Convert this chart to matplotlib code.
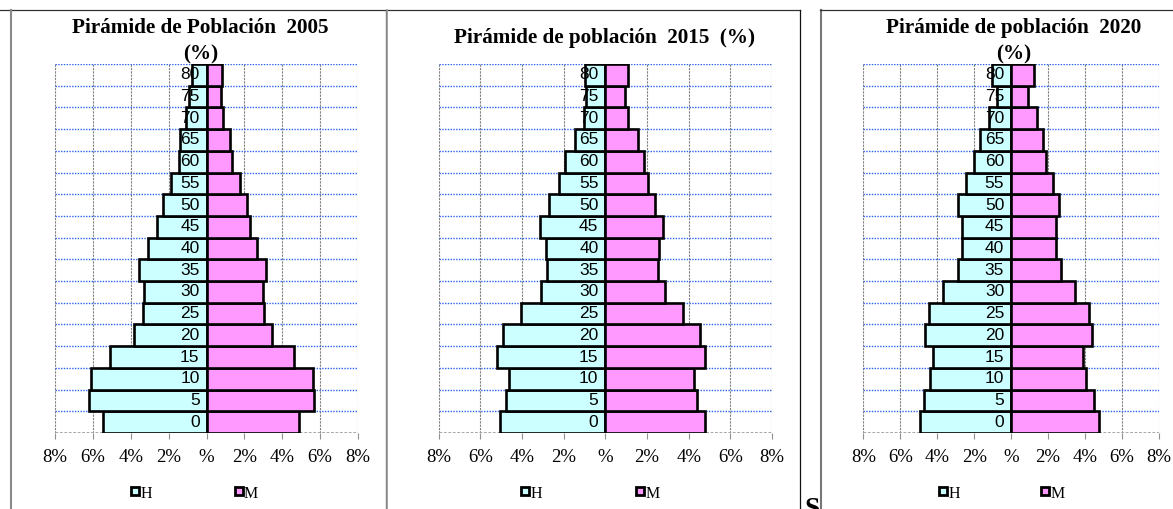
import matplotlib
matplotlib.use("Agg")
import matplotlib.pyplot as plt
from matplotlib.lines import Line2D

# ---------------------------------------------------------------------------
# Data (percent of population by 5-year age group, H = hombres, M = mujeres)
# ---------------------------------------------------------------------------
ages = ["0", "5", "10", "15", "20", "25", "30", "35", "40",
        "45", "50", "55", "60", "65", "70", "75", "80"]

h_2005 = [5.44, 6.18, 6.09, 5.10, 3.85, 3.36, 3.29, 3.54, 3.11,
          2.62, 2.31, 1.86, 1.46, 1.41, 1.06, 0.90, 0.78]
m_2005 = [4.86, 5.70, 5.61, 4.61, 3.45, 3.01, 2.97, 3.15, 2.68,
          2.31, 2.13, 1.78, 1.34, 1.25, 0.88, 0.74, 0.83]

h_2015 = [5.06, 4.75, 4.64, 5.20, 4.91, 4.05, 3.07, 2.78, 2.83,
          3.12, 2.69, 2.22, 1.92, 1.47, 1.04, 0.93, 0.98]
m_2015 = [4.78, 4.38, 4.27, 4.80, 4.54, 3.74, 2.86, 2.53, 2.56,
          2.77, 2.38, 2.06, 1.84, 1.55, 1.10, 0.93, 1.09]

h_2020 = [4.95, 4.71, 4.37, 4.22, 4.68, 4.44, 3.70, 2.87, 2.64,
          2.64, 2.87, 2.47, 1.99, 1.68, 1.19, 0.76, 1.01]
m_2020 = [4.75, 4.46, 4.03, 3.88, 4.37, 4.19, 3.48, 2.69, 2.42,
          2.42, 2.60, 2.24, 1.91, 1.70, 1.39, 0.92, 1.25]

x_ticks = [-8, -6, -4, -2, 0, 2, 4, 6, 8]
x_tick_labels = ["8%", "6%", "4%", "2%", "%", "2%", "4%", "6%", "8%"]

legend_labels = ["H", "M"]

# ---------------------------------------------------------------------------
# Styling
# ---------------------------------------------------------------------------
W, H = 1173, 509
SERIF = "Liberation Serif"
SANS = "Liberation Sans"
C_H = "#CCFFFF"
C_M = "#FF99FF"

fig = plt.figure(figsize=(W / 100, H / 100), dpi=100)
fig.patch.set_facecolor("white")


def fx(px):
    return px / W


def fy(py):
    return 1 - py / H


def pyramid(left, right, h_vals, m_vals):
    ax = fig.add_axes([fx(left), fy(433), fx(right - left), (433 - 64) / H])
    pos = list(range(len(ages)))
    neg_h = [-v for v in h_vals]

    # grid first, bars on top
    for x in x_ticks:
        ax.axvline(x, color="#808080", lw=0.8, ls=(0, (2, 1)), zorder=0)
    for k in range(len(ages)):
        ax.axhline(k + 0.5, color="#2A62F0", lw=1.0, ls=(0, (1, 1)), zorder=0)
    ax.axhline(-0.5, color="#A0A0A0", lw=2.0, ls=(0, (1, 0.6)), zorder=1)

    ax.barh(pos, neg_h, height=1.0, color=C_H, edgecolor="black", lw=1.9, zorder=2)
    ax.barh(pos, m_vals, height=1.0, color=C_M, edgecolor="black", lw=1.9, zorder=2)

    for p, lab in zip(pos, ages):
        ax.annotate(lab, (0, p), xytext=(-5, 0), textcoords="offset points",
                    ha="right", va="center", fontsize=12.5, family=SANS, zorder=3)

    ax.set_xlim(-8, 8)
    ax.set_ylim(-0.5, len(ages) - 0.5)
    ax.set_xticks(x_ticks)
    ax.set_xticklabels(x_tick_labels, family=SERIF, fontsize=13.5)
    ax.set_yticks([])
    ax.tick_params(axis="x", length=4, color="#909090", pad=7.5)
    for s in ax.spines.values():
        s.set_visible(False)
    return ax


def legend_at(xh, xm, y=491):
    for xc, col, lab in [(xh, C_H, legend_labels[0]), (xm, C_M, legend_labels[1])]:
        fig.add_artist(Line2D([fx(xc)], [fy(y)], marker="s", markersize=5.5,
                              markerfacecolor=col, markeredgecolor="black",
                              markeredgewidth=2.0, transform=fig.transFigure))
        fig.text(fx(xc + 5.5), fy(498), lab, family=SERIF, fontsize=11.5,
                 ha="left", va="baseline")


def title(cx, base, txt, size=15.2):
    fig.text(fx(cx), fy(base), txt, family=SERIF, fontweight="bold",
             fontsize=size, ha="center", va="baseline")


# panel 1 -------------------------------------------------------------------
pyramid(55, 358, h_2005, m_2005)
title(200, 33.3, "Pirámide de Población  2005")
title(200.5, 59.5, "(%)")
legend_at(135, 238.5)

# panel 2 -------------------------------------------------------------------
pyramid(438.7, 772, h_2015, m_2015)
title(604, 43.3, "Pirámide de población  2015  (%)")
legend_at(525, 639.7)

# panel 3 -------------------------------------------------------------------
pyramid(863.3, 1159, h_2020, m_2020)
title(1013.3, 33.3, "Pirámide de población  2020")
title(1013.3, 59.5, "(%)")
legend_at(943, 1045.2)

# frame lines of the surrounding document
def fline(xs, ys, color, lw):
    fig.add_artist(Line2D([fx(x) for x in xs], [fy(y) for y in ys],
                          color=color, lw=lw, transform=fig.transFigure))

fline([0, 800], [10, 10], "#333333", 0.9)
fline([11, 11], [10, 509], "#8A8A8A", 1.5)
fline([385.5, 385.5], [10, 509], "#222222", 0.9)
fline([387.3, 387.3], [10, 509], "#999999", 1.2)
fline([800.3, 800.3], [10, 509], "#111111", 0.9)
fline([820.8, 820.8], [10, 509], "#777777", 1.5)
fline([820, 1173], [10, 10], "#333333", 0.9)

# partly visible letter of the surrounding document text
fig.text(fx(804), fy(516), "S", family=SERIF, fontweight="bold", fontsize=20,
         ha="left", va="baseline")

fig.savefig("out.png", dpi=100)
